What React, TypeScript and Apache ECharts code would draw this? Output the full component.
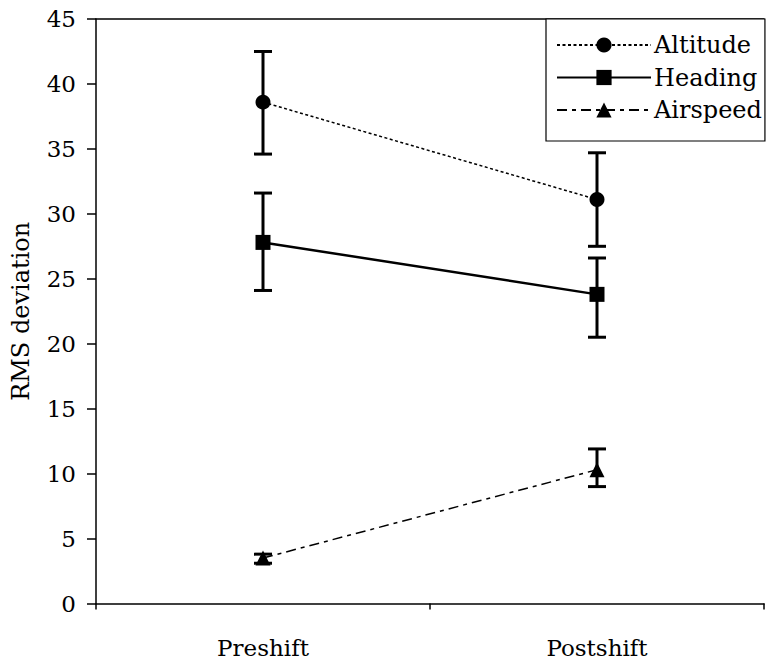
import React, { useEffect, useRef } from "react";
import * as echarts from "echarts";

const categories = ["Preshift", "Postshift"];
const altitude = [38.6, 31.1];
const altitudeLow = [34.6, 27.5];
const altitudeHigh = [42.5, 34.7];
const heading = [27.8, 23.8];
const headingLow = [24.1, 20.5];
const headingHigh = [31.6, 26.6];
const airspeed = [3.5, 10.3];
const airspeedLow = [3.1, 9.0];
const airspeedHigh = [3.8, 11.9];
const yTicks = { min: 0, max: 45, interval: 5 };

const FONT = "DejaVu Serif";

function errorSeries(name: string, low: number[], high: number[]) {
  return {
    type: "custom",
    name: name + " err",
    xAxisIndex: 0,
    yAxisIndex: 0,
    z: 1,
    silent: true,
    data: low.map((l, i) => [i, l, high[i]]),
    renderItem: (params: any, api: any) => {
      const x = api.value(0);
      const lo = api.coord([x, api.value(1)]);
      const hi = api.coord([x, api.value(2)]);
      const hw = 9;
      const style = { stroke: "#000", lineWidth: 3 };
      return {
        type: "group",
        children: [
          { type: "line", shape: { x1: lo[0], y1: lo[1], x2: hi[0], y2: hi[1] }, style },
          { type: "line", shape: { x1: lo[0] - hw, y1: lo[1], x2: lo[0] + hw, y2: lo[1] }, style },
          { type: "line", shape: { x1: hi[0] - hw, y1: hi[1], x2: hi[0] + hw, y2: hi[1] }, style },
        ],
      };
    },
  };
}

export default function App() {
  const ref = useRef<HTMLDivElement>(null);
  useEffect(() => {
    if (!ref.current) return;
    const chart = echarts.init(ref.current, undefined, { renderer: "svg" });
    chart.setOption({
      animation: false,
      backgroundColor: "#fff",
      textStyle: { fontFamily: FONT },
      grid: { left: 96, top: 19, right: 2, bottom: 57.5, containLabel: false },
      legend: {
        orient: "vertical",
        left: 546,
        top: 19,
        data: ["Altitude", "Heading", "Airspeed"],
        backgroundColor: "#fff",
        borderColor: "#000",
        borderWidth: 1.2,
        borderRadius: 0,
        padding: [14, 3, 19, 10],
        itemWidth: 94,
        itemHeight: 19,
        itemGap: 8.5,
        textStyle: { fontFamily: FONT, fontSize: 24, color: "#000", padding: [0, 0, 0, -2] },
      },
      xAxis: [
        {
          type: "category",
          data: categories,
          boundaryGap: true,
          axisLine: { lineStyle: { color: "#000", width: 1.5 } },
          axisTick: { show: true, length: 6, inside: false, lineStyle: { color: "#000", width: 1.5 } },
          axisLabel: { fontFamily: FONT, fontSize: 23, color: "#000", margin: 33 },
          splitLine: { show: false },
        },
        {
          type: "category",
          data: categories,
          position: "top",
          axisLine: { lineStyle: { color: "#000", width: 1.5 } },
          axisTick: { show: false },
          axisLabel: { show: false },
          splitLine: { show: false },
        },
      ],
      yAxis: {
        type: "value",
        min: yTicks.min,
        max: yTicks.max,
        interval: yTicks.interval,
        name: "RMS deviation",
        nameLocation: "middle",
        nameGap: 63,
        nameTextStyle: { fontFamily: FONT, fontSize: 24, color: "#000" },
        axisLine: { show: true, lineStyle: { color: "#000", width: 1.5 } },
        axisTick: { show: true, length: 9, lineStyle: { color: "#000", width: 1.5 } },
        axisLabel: { fontFamily: FONT, fontSize: 23, color: "#000", margin: 20 },
        splitLine: { show: false },
      },
      series: [
        errorSeries("Altitude", altitudeLow, altitudeHigh),
        errorSeries("Heading", headingLow, headingHigh),
        errorSeries("Airspeed", airspeedLow, airspeedHigh),
        {
          type: "line",
          name: "Altitude",
          data: altitude,
          symbol: "circle",
          symbolSize: 15,
          z: 3,
          itemStyle: { color: "#000" },
          lineStyle: { color: "#000", width: 1.5, type: [3, 2.5] },
        },
        {
          type: "line",
          name: "Heading",
          data: heading,
          symbol: "rect",
          symbolSize: 15,
          z: 3,
          itemStyle: { color: "#000" },
          lineStyle: { color: "#000", width: 2.5, type: "solid" },
        },
        {
          type: "line",
          name: "Airspeed",
          data: airspeed,
          symbol: "triangle",
          symbolSize: 15,
          z: 3,
          itemStyle: { color: "#000" },
          lineStyle: { color: "#000", width: 1.5, type: [10, 5, 4, 5] },
        },
      ],
    });
    return () => chart.dispose();
  }, []);
  return (
    <div
      ref={ref}
      style={{ position: "fixed", left: 0, top: 0, width: 766, height: 661, background: "#fff" }}
    />
  );
}
